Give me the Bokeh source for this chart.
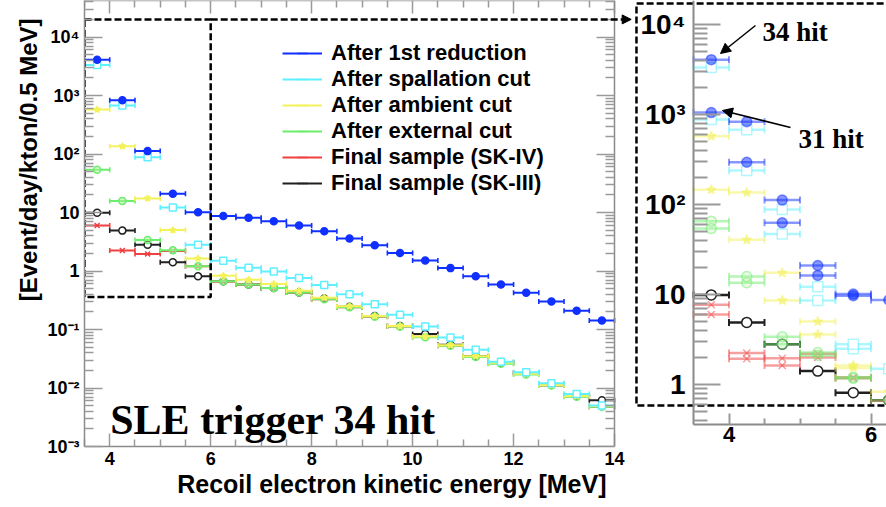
import math
from bokeh.plotting import figure
from bokeh.layouts import row
from bokeh.models import (Range1d, LogAxis, LinearAxis, FixedTicker, Legend, LegendItem, Title,
                          Label, Arrow, NormalHead, ColumnDataSource, CustomJSTickFormatter)
from bokeh.embed import file_html
from bokeh.resources import INLINE

# ---------------- data ----------------
energy = [3.75, 4.25, 4.75, 5.25, 5.75, 6.25, 6.75, 7.25, 7.75, 8.25, 8.75,
          9.25, 9.75, 10.25, 10.75, 11.25, 11.75, 12.25, 12.75, 13.25, 13.75]
bin_half = 0.25

after_1st = [4070, 830, 112, 21, 10.1, 8.7, 8.1, 7.1, 6.0, 4.8, 3.6,
             2.75, 2.04, 1.51, 1.12, 0.81, 0.59, 0.425, 0.30, 0.21, 0.142]
after_spallation = [3330, 675, 88, 12.2, 2.8, 1.5, 1.14, 0.98, 0.76, 0.575, 0.40,
                    0.27, 0.178, 0.112, 0.073, 0.045, 0.028, 0.0186, 0.012, 0.0079, 0.0050]
after_ambient = [575, 136, 17.4, 5.0, 1.63, 0.83, 0.71, 0.60, 0.46, 0.35, 0.25,
                 0.17, 0.115, 0.076, 0.054, 0.035, 0.027, 0.0175, 0.0112, 0.0073, 0.0049]
after_external = [54, 15.8, 3.4, 2.27, 1.2, 0.67, 0.59, 0.51, 0.43, 0.33, 0.24,
                  0.166, 0.112, 0.074, 0.053, 0.034, 0.026, 0.017, 0.011, 0.0071, 0.0048]
final_sk4 = [6.0, 2.24, 1.96, 2.2, 1.2, 0.66, 0.59, 0.51, 0.43, 0.33, 0.24,
             0.165, 0.112, 0.075, 0.053, 0.034, 0.027, 0.0177, 0.011, 0.0072, 0.0048]
final_sk3 = [9.9, 4.9, 2.8, 1.41, 0.81, 0.67, 0.59, 0.51, 0.43, 0.34, 0.245,
             0.17, 0.115, 0.084, 0.055, 0.035, 0.027, 0.018, 0.0115, 0.0074, 0.0062]

# inset: SLE trigger 31 hit (first five bins)
energy_31 = [3.75, 4.25, 4.75, 5.25, 5.75]
after_1st_31 = [1050, 295, 62.6, 16.3, 9.7]
after_spallation_31 = [880, 239, 47, 8.6, 2.5]
after_ambient_31 = [146, 40.5, 8.6, 3.6, 1.53]
after_external_31 = [65, 13.5, 2.8, 2.1, 1.17]
final_sk4_31 = [7.7, 1.93, 1.63, 2.0, 1.17]

series_labels = ["After 1st reduction", "After spallation cut", "After ambient cut",
                 "After external cut", "Final sample (SK-IV)", "Final sample (SK-III)"]

x_ticks = [4, 6, 8, 10, 12, 14]
y_tick_values = [1e-3, 1e-2, 1e-1, 1, 10, 100, 1000, 10000]
y_tick_labels = ["10\u207b\u00b3", "10\u207b\u00b2", "10\u207b\u00b9", "1", "10",
                 "10\u00b2", "10\u00b3", "10\u2074"]
inset_x_ticks = [4, 6]
inset_y_values = [1, 10, 100, 1000, 10000]
inset_y_labels = ["1", "10", "10\u00b2", "10\u00b3", "10\u2074"]

x_title = "Recoil electron kinetic energy [MeV]"
y_title = "[Event/day/kton/0.5 MeV]"
big_text = "SLE trigger 34 hit"

# ---------------- styles ----------------
SANS = "Liberation Sans"
SERIF = "Liberation Serif"
AXIS_GRAY = "#8a8a8a"
TICK_GRAY = "#9a9a9a"

styles = [  # color, marker, fill
    ("#1030ff", "circle", "#1030ff"),
    ("#5ff0ff", "square", "white"),
    ("#f4f25a", "star", "#f4f25a"),
    ("#6cee6c", "circle", "#b0f0a0"),
    ("#f04040", "x", "#f04040"),
    ("#202020", "circle", "white"),
]

main_series = [after_1st, after_spallation, after_ambient, after_external, final_sk4, final_sk3]
series_31 = [after_1st_31, after_spallation_31, after_ambient_31, after_external_31, final_sk4_31, None]


def fmt(vals, labs):
    return CustomJSTickFormatter(args=dict(vals=vals, labs=labs), code="""
        for (let i = 0; i < vals.length; i++) {
            if (Math.abs(tick / vals[i] - 1) < 1e-6) { return labs[i]; }
        }
        return "";
    """)


def draw_series(fig, xs, ys, color, marker, fill, size, lw, cap, alpha):
    src = ColumnDataSource(dict(x=xs, y=ys,
                                x0=[x - bin_half for x in xs],
                                x1=[x + bin_half for x in xs]))
    fig.segment(x0="x0", y0="y", x1="x1", y1="y", source=src, line_color=color,
                line_width=lw, line_alpha=alpha)
    for col in ("x0", "x1"):
        fig.scatter(x=col, y="y", source=src, marker="dash", angle=math.pi / 2, size=cap,
                    line_color=color, line_width=lw * 0.8, line_alpha=alpha)
    fa = alpha if fill != "white" else 1.0
    if marker == "circle" and fill not in ("white", color):
        fa = 0.5 * alpha
    fig.scatter(x="x", y="y", source=src, marker=marker, size=size, line_color=color,
                fill_color=fill, fill_alpha=fa, line_alpha=alpha, line_width=1.5)


def style_axis(ax, lw):
    ax.axis_line_color = AXIS_GRAY
    ax.axis_line_width = lw
    ax.major_tick_line_color = TICK_GRAY
    ax.minor_tick_line_color = TICK_GRAY
    ax.major_tick_line_width = lw
    ax.minor_tick_line_width = lw
    ax.major_tick_out = 0
    ax.minor_tick_out = 0
    ax.major_label_text_font = SANS
    ax.major_label_text_font_style = "bold"
    ax.major_label_text_color = "black"


# ---------------- main figure ----------------
MAIN_W, INSET_W, H = 632, 254, 507
BOTTOM = 61
main_y_bot = 1e-3
main_y_top = 42070
p = figure(width=MAIN_W, height=H, x_range=Range1d(3.5, 14.356),
           y_range=Range1d(main_y_bot, main_y_top), y_axis_type="log",
           output_backend="svg", toolbar_location=None,
           min_border_left=84, min_border_right=0, min_border_top=0, min_border_bottom=BOTTOM)
p.outline_line_color = None
p.grid.visible = False
p.background_fill_color = "white"
p.border_fill_color = "white"

x_minor = [3.5 + 0.5 * k for k in range(22) if (3.5 + 0.5 * k) not in x_ticks]
y_minor = [m * 10.0 ** e for e in range(-3, 5) for m in range(2, 10) if m * 10.0 ** e < main_y_top]

xa = p.xaxis[0]
xa.ticker = FixedTicker(ticks=x_ticks, minor_ticks=x_minor)
xa.bounds = (3.5, 14)
ya = p.yaxis[0]
ya.ticker = FixedTicker(ticks=y_tick_values, minor_ticks=y_minor)
ya.formatter = fmt(y_tick_values, y_tick_labels)

for ax in (xa, ya):
    style_axis(ax, 1.5)
    ax.major_label_text_font_size = "18px"

xa.major_tick_in = 13
xa.minor_tick_in = 7
xa.major_label_standoff = 5
ya.major_tick_in = 18
ya.minor_tick_in = 9
ya.major_label_standoff = 5

# axis titles (ROOT style: aligned to the end of the axis)
p.add_layout(Title(text=x_title, align="right", offset=26, standoff=0,
                   text_font=SANS, text_font_style="bold", text_font_size="25px",
                   text_color="black"), "below")
p.add_layout(Title(text=y_title, align="right", offset=18, standoff=6,
                   text_font=SANS, text_font_style="bold", text_font_size="24px",
                   text_color="black"), "left")

# right and top frame axes (ticks only)
ra = LogAxis(fixed_location=14, ticker=FixedTicker(ticks=y_tick_values, minor_ticks=y_minor),
             major_tick_in=18, minor_tick_in=9)
style_axis(ra, 1.5)
ra.major_label_text_font_size = "0px"
ra.major_label_text_color = None
p.add_layout(ra, "right")
ta = LinearAxis(fixed_location=main_y_top, bounds=(3.5, 14),
                ticker=FixedTicker(ticks=x_ticks, minor_ticks=x_minor),
                major_tick_in=13, minor_tick_in=7)
style_axis(ta, 1.5)
ta.major_label_text_font_size = "0px"
ta.major_label_text_color = None
p.add_layout(ta, "above")

# data (draw order: black, red, green, yellow, cyan, blue)
for idx in [5, 4, 3, 2, 1, 0]:
    c, m, f = styles[idx]
    draw_series(p, energy, main_series[idx], c, m, f, size=7, lw=2, cap=5, alpha=1.0)

# zoom box + connector arrow
zoom_x = [3.5, 6.0]
zoom_y = [0.36, 2.0e4]
p.line(x=[zoom_x[0], zoom_x[1], zoom_x[1], zoom_x[0], zoom_x[0]],
       y=[zoom_y[1], zoom_y[1], zoom_y[0], zoom_y[0], zoom_y[1]],
       line_color="black", line_width=2.5, line_dash="7 3")
p.add_layout(Arrow(end=NormalHead(size=9, fill_color="black", line_color="black"),
                   x_start=zoom_x[1], y_start=zoom_y[1], x_end=14.33, y_end=zoom_y[1],
                   line_color="black", line_width=2.5, line_dash="7 3"))

p.add_layout(Label(x=4.01, y=0.0028, text=big_text, text_font=SERIF, text_font_style="bold",
                   text_font_size="42px", text_color="black", text_baseline="alphabetic"))

# legend (hidden renderers, drawn only as legend glyphs)
items = []
for idx in range(6):
    c, m, f = styles[idx]
    vals = main_series[idx]
    r1 = p.line(x=energy, y=vals, line_color=c, line_width=2, visible=False)
    r2 = p.scatter(x=energy, y=vals, marker="dash", angle=math.pi / 2, size=13,
                   line_color=c, line_width=1.5, visible=False)
    items.append(LegendItem(label=series_labels[idx], renderers=[r1, r2]))
legend = Legend(items=items, location=(198, 250), glyph_width=40, glyph_height=26,
                label_height=26, spacing=0, padding=0, margin=0, label_standoff=9,
                label_text_font=SANS, label_text_font_style="bold", label_text_font_size="22px",
                label_text_color="black", border_line_color=None, background_fill_alpha=0,
                inactive_fill_alpha=0)
p.add_layout(legend, "center")

# ---------------- inset figure ----------------
# frame spans the same height as the main frame (bottom edge at 446 px)
inset_y_top = 18480
inset_y_bot = 0.2047
inset_axis_y = 0.3594
q = figure(width=INSET_W, height=H, x_range=Range1d(2.641, 6.218),
           y_range=Range1d(inset_y_bot, inset_y_top), y_axis_type="log", y_axis_location=None,
           output_backend="svg", toolbar_location=None,
           min_border_left=0, min_border_right=0, min_border_top=0, min_border_bottom=BOTTOM)
q.outline_line_color = None
q.grid.visible = False
q.background_fill_color = "white"
q.border_fill_color = "white"

qx = q.xaxis[0]
qx.ticker = FixedTicker(ticks=inset_x_ticks, minor_ticks=[4.5, 5.0, 5.5])
qx.bounds = (3.5, 6.3)
qx.fixed_location = inset_axis_y
style_axis(qx, 2)
qx.major_tick_in = 11
qx.minor_tick_in = 6
qx.major_label_standoff = 3
qx.major_label_text_font_size = "22px"

inset_minor = [m * 10.0 ** e for e in range(-1, 4) for m in range(2, 10)
               if inset_axis_y < m * 10.0 ** e < inset_y_top and not (e == -1 and m < 4)]
qy = LogAxis(fixed_location=3.5, ticker=FixedTicker(ticks=inset_y_values, minor_ticks=inset_minor),
             formatter=fmt(inset_y_values, inset_y_labels),
             bounds=(inset_axis_y, inset_y_top),
             major_tick_in=27, minor_tick_in=14, major_label_standoff=8)
style_axis(qy, 2)
qy.major_label_text_font_size = "28px"
q.add_layout(qy, "left")

for idx in [5, 4, 3, 2, 1, 0]:
    c, m, f = styles[idx]
    a = 1.0 if idx == 5 else 0.5
    if series_31[idx] is not None:
        draw_series(q, energy_31, series_31[idx], c, m, f, size=10, lw=2.5, cap=7, alpha=a)
    draw_series(q, energy, main_series[idx], c, m, f, size=10, lw=2.5, cap=7, alpha=a)

# inset dashed frame
inset_box_x = [2.697, 6.6]
inset_box_y = [0.585, 17100]
q.line(x=[inset_box_x[1], inset_box_x[0], inset_box_x[0], inset_box_x[1]],
       y=[inset_box_y[1], inset_box_y[1], inset_box_y[0], inset_box_y[0]],
       line_color="black", line_width=2.5, line_dash="7 3")

q.add_layout(Label(x=4.472, y=8150, text="34 hit", text_font=SERIF, text_font_style="bold",
                   text_font_size="27px", text_color="black", text_baseline="alphabetic"))
q.add_layout(Label(x=4.979, y=541, text="31 hit", text_font=SERIF, text_font_style="bold",
                   text_font_size="27px", text_color="black", text_baseline="alphabetic"))
q.add_layout(Arrow(end=NormalHead(size=10, fill_color="black", line_color="black"),
                   x_start=4.373, y_start=9750, x_end=3.88, y_end=4760,
                   line_color="black", line_width=1.5))
q.add_layout(Arrow(end=NormalHead(size=10, fill_color="black", line_color="black"),
                   x_start=4.866, y_start=717, x_end=3.908, y_end=1108,
                   line_color="black", line_width=1.5))

layout = row(p, q, spacing=0)
open("out.html", "w").write(file_html(layout, INLINE))
